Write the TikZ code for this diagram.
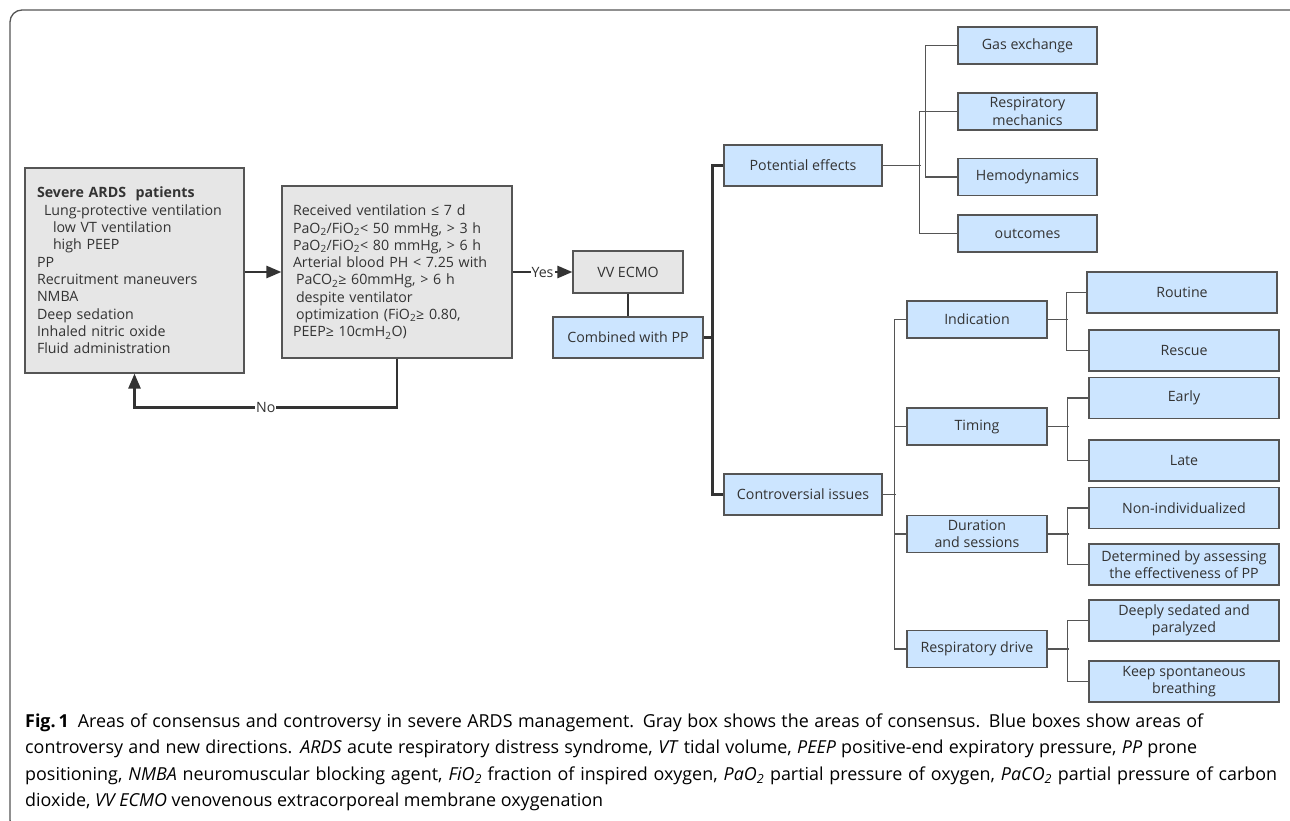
\documentclass[tikz,border=0pt]{standalone}
\usepackage{fontspec}
\setmainfont{Open Sans}
\newfontfamily\capfont{Open Sans}
\usetikzlibrary{arrows.meta, positioning, calc}
\definecolor{consgray}{HTML}{E6E6E6}
\definecolor{ctrblue}{HTML}{CCE5FF}
\definecolor{edgegray}{HTML}{555555}
\definecolor{inkgray}{HTML}{333333}
\newcommand{\capline}[2]{\hbox to #1pt{\spaceskip=0.26em plus 1em\relax #2}}

\begin{document}
\begin{tikzpicture}[
x=1pt, y=-1pt,
font=\fontsize{14.2}{17.3}\selectfont,
text=inkgray,
>={Triangle[length=15pt,width=12pt]},
box/.style={
draw=edgegray,
line width=1.2pt,
fill=#1,
align=center,
inner sep=0pt
},
gbox/.style={box=consgray},
bbox/.style={box=ctrblue},
effect/.style={bbox, minimum width=139, minimum height=37},
issue/.style={bbox, minimum width=140, minimum height=37},
leaf/.style={bbox, minimum width=190, minimum height=41},
flow/.style={->, draw=inkgray, line width=2.6pt},
trunk/.style={draw=inkgray, line width=2.4pt},
twig/.style={draw=edgegray, line width=1.3pt},
lab/.style={fill=white, inner sep=1pt},
capl/.style={anchor=base west, inner sep=0pt, text=black, font=\capfont\fontsize{17.9}{26.5}\selectfont}
]

% Page and frame
\clip (0,0) rectangle (1290,820);
\draw[edgegray, line width=1.3pt, rounded corners=12pt] (10,10) rectangle (1302,832);

% Consensus boxes
\node[gbox, minimum width=219, minimum height=205, text width=195, align=left] (sev) at (134.5,270.5) {%
\textbf{Severe ARDS\ \ patients}\\
\hspace*{7pt}Lung-protective ventilation\\
\hspace*{16pt}low VT ventilation\\
\hspace*{16pt}high PEEP\\
PP\\
Recruitment maneuvers\\
NMBA\\
Deep sedation\\
Inhaled nitric oxide\\
Fluid administration};
\node[gbox, minimum width=230, minimum height=172, text width=208, align=left] (crit) at (397,272) {%
Received ventilation ≤ 7 d\\
PaO\textsubscript{2}/FiO\textsubscript{2}< 50 mmHg, > 3 h\\
PaO\textsubscript{2}/FiO\textsubscript{2}< 80 mmHg, > 6 h\\
Arterial blood PH < 7.25 with\\
\hspace*{3pt}PaCO\textsubscript{2}≥ 60mmHg, > 6 h\\
\hspace*{3pt}despite ventilator\\
\hspace*{3pt}optimization (FiO\textsubscript{2}≥ 0.80,\\
PEEP≥ 10cmH\textsubscript{2}O)};
\node[gbox, minimum width=110, minimum height=42] (ecmo) at (628,272) {VV ECMO};
\node[bbox, minimum width=150, minimum height=41] (combo) at (628,337.5) {Combined with PP};

% Two branches
\node[bbox, minimum width=158, minimum height=41] (pot) at (803,165.5) {Potential effects};
\node[bbox, minimum width=158, minimum height=41] (contro) at (803,494.5) {Controversial issues};

% Potential effects
\node[effect] (gas) at (1027.5,45.5) {Gas exchange};
\node[effect] (mech) at (1027.5,111.5) {Respiratory\\mechanics};
\node[effect] (hemo) at (1027.5,177) {Hemodynamics};
\node[effect] (outc) at (1027.5,233.5) {outcomes};

% Controversial issues
\node[issue] (ind) at (977,319.5) {Indication};
\node[issue] (tim) at (977,426.5) {Timing};
\node[issue] (dur) at (977,534) {Duration\\and sessions};
\node[issue] (drive) at (977,649) {Respiratory drive};

\node[leaf] (routine) at (1182,292.5) {Routine};
\node[leaf] (rescue) at (1184,350.5) {Rescue};
\node[leaf] (early) at (1184,398) {Early};
\node[leaf] (late) at (1184,460.5) {Late};
\node[leaf] (nonind) at (1184,508) {Non-individualized};
\node[leaf] (determ) at (1184,564.5) {Determined by assessing\\the effectiveness of PP};
\node[leaf] (deep) at (1184,620.5) {Deeply sedated and\\paralyzed};
\node[leaf] (keep) at (1184,681.5) {Keep spontaneous\\breathing};

% Flow
\draw[flow] (sev.east |- crit.west) -- (crit.west);
\draw[flow] (crit.east) -- node[lab] {Yes} (ecmo.west);
\draw[flow] (crit.south) -- ++(0,49) -| node[lab, pos=0.25] {No} (sev.south);
\draw[trunk] (ecmo.south) -- (combo.north);
\draw[trunk] (combo.east) -- ++(10,0);
\draw[trunk] (pot.west) -- ++(-11,0) |- (contro.west);

% Tree lines
\draw[twig] (pot.east) -- ++(38,0);
\draw[twig] (mech.west) -- ++(-38,0) |- (outc.west);
\draw[twig] (gas.west) -- ++(-32,0) |- (hemo.west);

\draw[twig] (contro.east) -- ++(13,0);
\draw[twig] (ind.west) -- ++(-12,0) |- (drive.west);
\draw[twig] (tim.west) -- ++(-12,0);
\draw[twig] (dur.west) -- ++(-12,0);

\draw[twig] (ind.east) -- ++(20,0);
\draw[twig] (routine.west) -- ++(-20,0) |- (rescue.west);
\draw[twig] (tim.east) -- ++(21,0);
\draw[twig] (early.west) -- ++(-21,0) |- (late.west);
\draw[twig] (dur.east) -- ++(21,0);
\draw[twig] (nonind.west) -- ++(-21,0) |- (determ.west);
\draw[twig] (drive.east) -- ++(21,0);
\draw[twig] (deep.west) -- ++(-21,0) |- (keep.west);

% Caption
\node[capl] (cap1) at (25,727) {\capline{1178}{\textbf{Fig.\,1}\enspace Areas of consensus and controversy in severe ARDS management. Gray box shows the areas of consensus. Blue boxes show areas of}};
\node[capl] (cap2) at (25,753.5) {\capline{1172}{controversy and new directions. \textit{ARDS} acute respiratory distress syndrome, \textit{VT} tidal volume, \textit{PEEP} positive-end expiratory pressure, \textit{PP} prone}};
\node[capl] (cap3) at (25,780) {\capline{1252}{positioning, \textit{NMBA} neuromuscular blocking agent, \textit{FiO\textsubscript{2}} fraction of inspired oxygen, \textit{PaO\textsubscript{2}} partial pressure of oxygen, \textit{PaCO\textsubscript{2}} partial pressure of carbon}};
\node[capl] (cap4) at (25,806.5) {dioxide, \textit{VV ECMO} venovenous extracorporeal membrane oxygenation};

\end{tikzpicture}
\end{document}
